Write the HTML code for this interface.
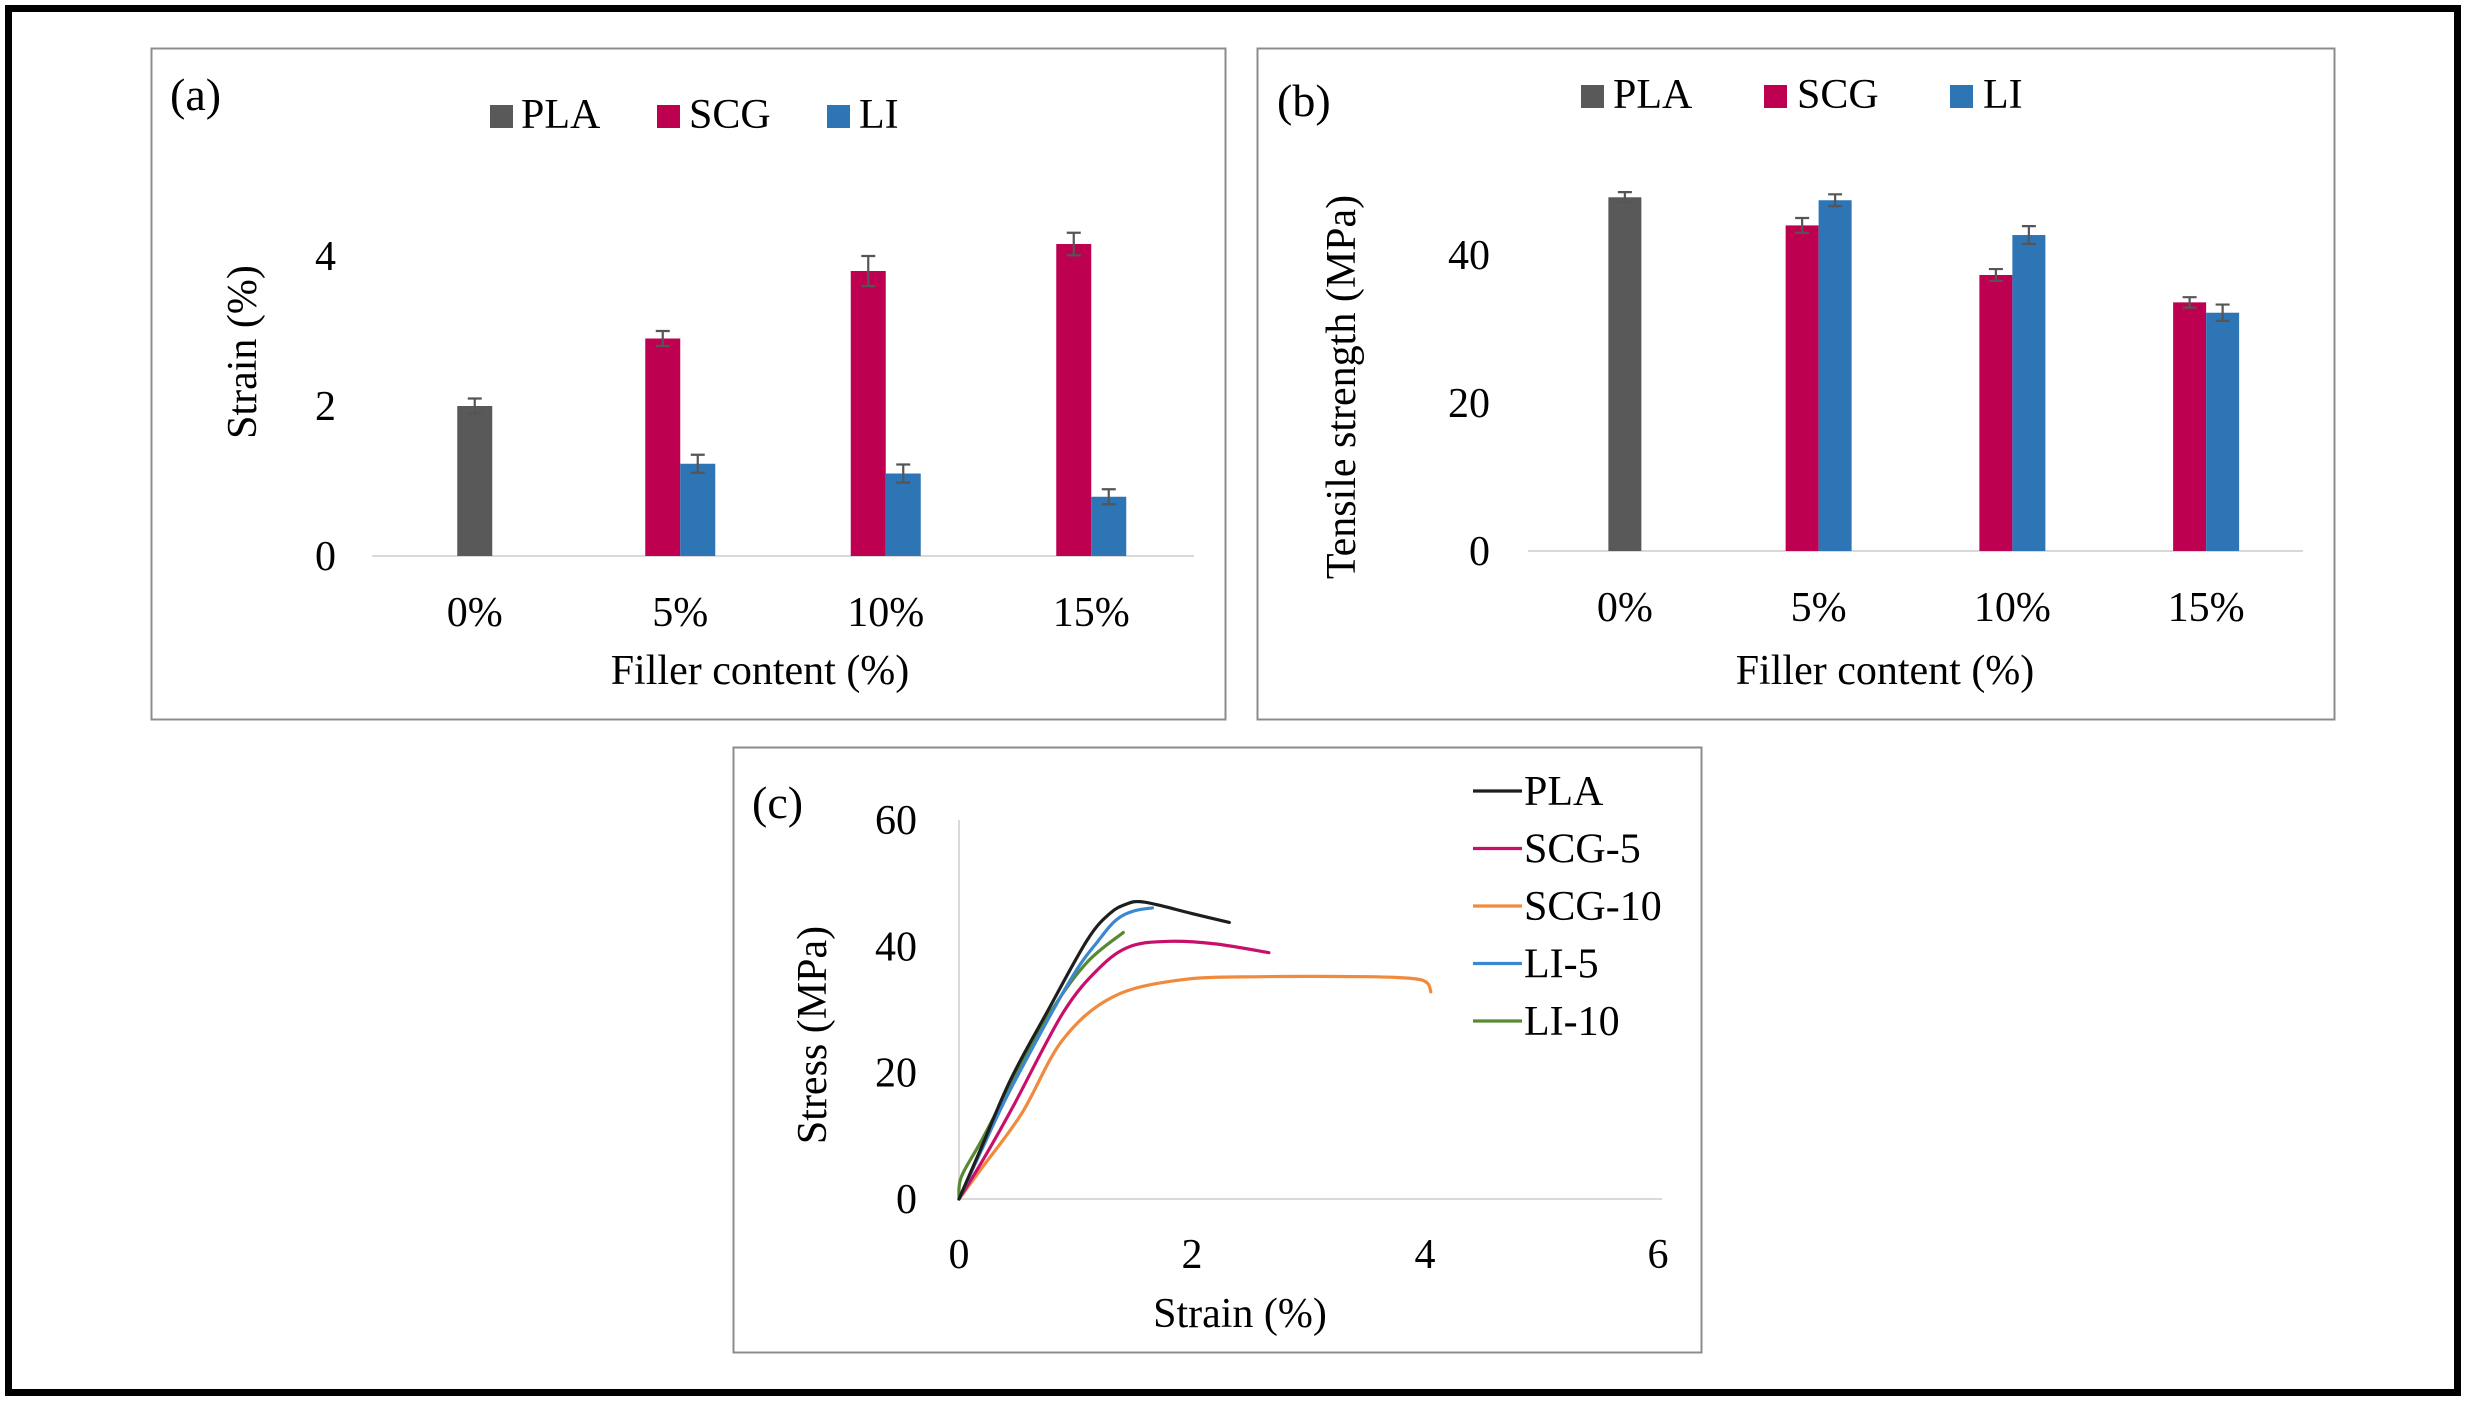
<!DOCTYPE html>
<html>
<head>
<meta charset="utf-8">
<style>
  html,body{margin:0;padding:0;background:#fff;}
  body{width:2466px;height:1401px;overflow:hidden;font-family:"Liberation Serif","Times New Roman",serif;}
  svg text{font-family:"Liberation Serif","Times New Roman",serif;fill:#000;}
</style>
</head>
<body>
<svg id="fig" width="2466" height="1401" viewBox="0 0 2466 1401" xmlns="http://www.w3.org/2000/svg" font-family="Liberation Serif, serif">
  <rect x="8.5" y="8.5" width="2449" height="1384" fill="none" stroke="#000" stroke-width="7"/>
  <rect x="151.5" y="48.5" width="1074" height="671" fill="#fff" stroke="#8c8c8c" stroke-width="2"/>
  <rect x="1257.5" y="48.5" width="1077" height="671" fill="#fff" stroke="#8c8c8c" stroke-width="2"/>
  <rect x="733.5" y="747.5" width="968" height="605" fill="#fff" stroke="#8c8c8c" stroke-width="2"/>
  <g id="pa"></g>
  <g id="pb"></g>
  <g id="pc"></g>
</svg>
<script>
// ---- data ----
const categories = ["0%", "5%", "10%", "15%"];
const seriesNames = ["PLA", "SCG", "LI"];
const strainPLA = [2.0, null, null, null];
const strainSCG = [null, 2.9, 3.8, 4.16];
const strainLI = [null, 1.23, 1.1, 0.79];
const strainErrPLA = [0.1, null, null, null];
const strainErrSCG = [null, 0.1, 0.2, 0.15];
const strainErrLI = [null, 0.12, 0.12, 0.1];
const strainTicks = [0, 2, 4];
const tensilePLA = [47.8, null, null, null];
const tensileSCG = [null, 44.0, 37.3, 33.6];
const tensileLI = [null, 47.4, 42.7, 32.2];
const tensileErrPLA = [0.7, null, null, null];
const tensileErrSCG = [null, 1.0, 0.8, 0.7];
const tensileErrLI = [null, 0.8, 1.2, 1.1];
const tensileTicks = [0, 20, 40];
const curveNames = ["PLA", "SCG-5", "SCG-10", "LI-5", "LI-10"];
const curvePLA = [[0,0],[0.2,8.5],[0.44,18.8],[0.75,29.4],[1.1,41],[1.3,45.3],[1.45,46.8],[1.55,47.1],[1.7,46.6],[2.0,45.2],[2.32,43.8]];
const curveSCG5 = [[0,0],[0.2,6],[0.46,14.5],[0.89,29.4],[1.2,36.5],[1.47,40],[1.81,40.8],[2.2,40.4],[2.66,39]];
const curveSCG10 = [[0,0],[0.2,5],[0.54,13.6],[0.89,25.2],[1.32,32],[1.9,34.7],[2.6,35.2],[3.5,35.2],[3.9,34.9],[4.02,34.2],[4.05,32.8]];
const curveLI5 = [[0,0],[0.2,8],[0.46,18],[0.95,34.5],[1.2,41],[1.35,44.2],[1.5,45.6],[1.66,46.1]];
const curveLI10 = [[0,0],[0.02,3.5],[0.2,9.5],[0.5,20],[0.8,30],[1.1,37.5],[1.41,42.2]];
const stressTicks = [0, 20, 40, 60];
const strainXTicks = [0, 2, 4, 6];

// ---- styles ----
const barColors = ["#595959", "#BE0051", "#2E75B6"];
const curveColors = ["#1e1e1e", "#C8106A", "#F08A3C", "#3A88CF", "#568A33"];
const NS = "http://www.w3.org/2000/svg";
const FF = '"Liberation Serif","Times New Roman",serif';
function mk(parent, tag, attrs, text){
  const e = document.createElementNS(NS, tag);
  for (const k in attrs) e.setAttribute(k, attrs[k]);
  if (tag === "text") e.setAttribute("style", "font-family:" + FF);
  if (text !== undefined) e.textContent = text;
  parent.appendChild(e);
  return e;
}
function smoothPath(P){
  let d = "M" + P[0][0].toFixed(1) + "," + P[0][1].toFixed(1);
  for (let i = 0; i < P.length - 1; i++){
    const p0 = P[Math.max(0, i-1)], p1 = P[i], p2 = P[i+1], p3 = P[Math.min(P.length-1, i+2)];
    const c1x = p1[0] + (p2[0]-p0[0])/6, c1y = p1[1] + (p2[1]-p0[1])/6;
    const c2x = p2[0] - (p3[0]-p1[0])/6, c2y = p2[1] - (p3[1]-p1[1])/6;
    d += "C" + c1x.toFixed(1) + "," + c1y.toFixed(1) + " " + c2x.toFixed(1) + "," + c2y.toFixed(1) + " " + p2[0].toFixed(1) + "," + p2[1].toFixed(1);
  }
  return d;
}

function barChart(g, cfg){
  const y = v => cfg.y0 - (v - 0) * cfg.pxPerUnit;
  const band = (cfg.x1 - cfg.x0) / categories.length;
  const xc = i => cfg.x0 + band * (i + 0.5);
  const ax = mk(g, "line", {x1: cfg.x0, y1: cfg.y0, x2: cfg.x1, y2: cfg.y0, stroke: "#d9d9d9", "stroke-width": 2});
  
  
  cfg.ticks.forEach(t => {
    const tl = mk(g, "text", {x: cfg.tickX, y: y(t) + 14, "font-size": 42, "text-anchor": "end"}, String(t));
    
    
  });
  categories.forEach((c, i) => {
    const xl = mk(g, "text", {x: xc(i), y: cfg.y0 + 70, "font-size": 42, "text-anchor": "middle"}, c);
    
    
  });
  categories.forEach((c, i) => {
    const present = [];
    cfg.series.forEach((s, si) => { if (s[i] !== null && s[i] !== undefined) present.push(si); });
    const n = present.length;
    present.forEach((si, k) => {
      const v = cfg.series[si][i];
      const bx = xc(i) - n * cfg.bw / 2 + k * cfg.bw;
      const r = mk(g, "rect", {x: bx, y: y(v), width: cfg.bw, height: cfg.y0 - y(v), fill: barColors[si]});
      
      
      const e = cfg.errs[si][i];
      const cx = bx + cfg.bw / 2;
      const eb = mk(g, "path", {d: `M${cx-7},${y(v+e)}H${cx+7}M${cx},${y(v+e)}V${y(v-e)}M${cx-7},${y(v-e)}H${cx+7}`, stroke: "#555", "stroke-width": 2.2, fill: "none"});
      
      
    });
  });
  cfg.legend.forEach((L, si) => {
    const sw = mk(g, "rect", {x: L[0], y: cfg.legY - 22, width: 23, height: 23, fill: barColors[si]});
    
    
    const lt = mk(g, "text", {x: L[1], y: cfg.legY + 1, "font-size": 42}, seriesNames[si]);
    
    
  });
  const pl = mk(g, "text", {x: cfg.labelX, y: cfg.labelY, "font-size": 46}, cfg.label);
  
  
  const xt = mk(g, "text", {x: cfg.xTitleX, y: 684, "font-size": 42, "text-anchor": "middle"}, "Filler content (%)");
  
  
  const yt = mk(g, "text", {x: 0, y: 0, "font-size": 42, "text-anchor": "middle", transform: `translate(${cfg.yTitleX},${cfg.yTitleY}) rotate(-90)`}, cfg.yTitle);
  
  
}

barChart(document.getElementById("pa"), {
  x0: 372, x1: 1194, y0: 556, pxPerUnit: 75, bw: 35, tickX: 336, ticks: strainTicks,
  series: [strainPLA, strainSCG, strainLI], errs: [strainErrPLA, strainErrSCG, strainErrLI],
  legend: [[490, 521], [657, 689], [827, 859]], legY: 127,
  label: "(a)", labelX: 170, labelY: 110, xTitleX: 760, yTitle: "Strain (%)", yTitleX: 256, yTitleY: 352
});
barChart(document.getElementById("pb"), {
  x0: 1528, x1: 2303, y0: 551, pxPerUnit: 7.4, bw: 33, tickX: 1490, ticks: tensileTicks,
  series: [tensilePLA, tensileSCG, tensileLI], errs: [tensileErrPLA, tensileErrSCG, tensileErrLI],
  legend: [[1581, 1613], [1764, 1797], [1950, 1983]], legY: 107,
  label: "(b)", labelX: 1277, labelY: 116, xTitleX: 1885, yTitle: "Tensile strength (MPa)", yTitleX: 1355, yTitleY: 387
});

(function(){
  const g = document.getElementById("pc");
  const X = v => 959 + v * 116.5;
  const Y = v => 1199 - v * 6.315;
  const va = mk(g, "line", {x1: X(0), y1: Y(60), x2: X(0), y2: Y(0), stroke: "#d9d9d9", "stroke-width": 2});
  
  
  const ha = mk(g, "line", {x1: X(0), y1: Y(0), x2: 1662, y2: Y(0), stroke: "#d9d9d9", "stroke-width": 2});
  
  
  stressTicks.forEach(t => {
    const tl = mk(g, "text", {x: 917, y: Y(t) + 14, "font-size": 42, "text-anchor": "end"}, String(t));
    
    
  });
  strainXTicks.forEach(t => {
    const tl = mk(g, "text", {x: X(t), y: 1268, "font-size": 42, "text-anchor": "middle"}, String(t));
    
    
  });
  const curves = [curvePLA, curveSCG5, curveSCG10, curveLI5, curveLI10];
  const order = [2, 1, 4, 3, 0];
  order.forEach(ci => {
    const P = curves[ci].map(p => [X(p[0]), Y(p[1])]);
    const pl = mk(g, "path", {d: smoothPath(P), fill: "none", stroke: curveColors[ci], "stroke-width": 3.2, "stroke-linejoin": "round", "stroke-linecap": "round"});
    
    
  });
  curveNames.forEach((n, i) => {
    const ly = 791 + i * 57.5;
    const ll = mk(g, "line", {x1: 1473, y1: ly, x2: 1522, y2: ly, stroke: curveColors[i], "stroke-width": 3.2});
    
    
    const lt = mk(g, "text", {x: 1524, y: ly + 14, "font-size": 42}, n);
    
    
  });
  const pl = mk(g, "text", {x: 752, y: 818, "font-size": 46}, "(c)");
  
  
  const xt = mk(g, "text", {x: 1240, y: 1327, "font-size": 42, "text-anchor": "middle"}, "Strain (%)");
  
  
  const yt = mk(g, "text", {x: 0, y: 0, "font-size": 42, "text-anchor": "middle", transform: "translate(826,1035) rotate(-90)"}, "Stress (MPa)");
  
  
})();
</script>
</body>
</html>
